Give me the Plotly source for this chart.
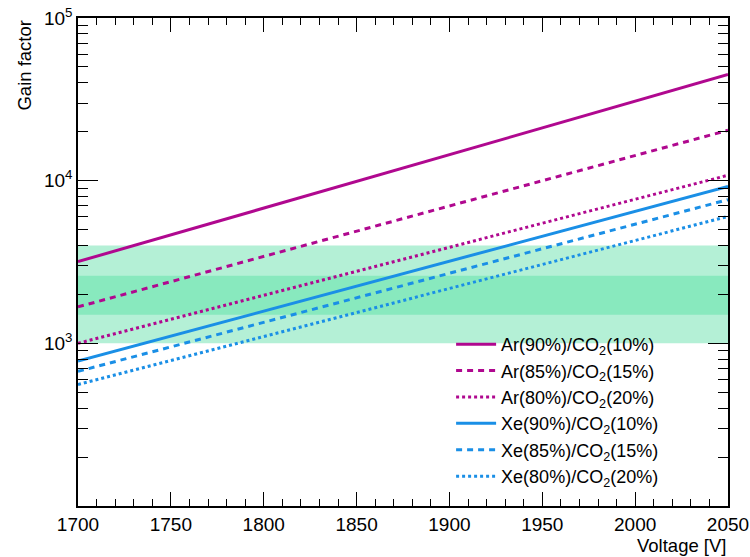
import plotly.graph_objects as go

# ---- data ----
voltage = [1700, 2050]
ar90 = [3180, 45000]
ar85 = [1675, 20400]
ar80 = [1000, 10800]
xe90 = [778, 9230]
xe85 = [672, 7640]
xe80 = [558, 6025]

outer_band = [1000, 4000]
inner_band = [1500, 2600]

x_ticks = [1700, 1750, 1800, 1850, 1900, 1950, 2000, 2050]
y_ticks = [1e3, 1e4, 1e5]
y_ticktext = ["10<sup>3</sup>", "10<sup>4</sup>", "10<sup>5</sup>"]

AR = "#b0088f"
XE = "#1a8fe6"
FONT = "Liberation Sans, Arial, Helvetica, sans-serif"

series = [
    ("Ar(90%)/CO<sub>2</sub>(10%)", ar90, AR, "solid"),
    ("Ar(85%)/CO<sub>2</sub>(15%)", ar85, AR, "6px,5px"),
    ("Ar(80%)/CO<sub>2</sub>(20%)", ar80, AR, "3px,3px"),
    ("Xe(90%)/CO<sub>2</sub>(10%)", xe90, XE, "solid"),
    ("Xe(85%)/CO<sub>2</sub>(15%)", xe85, XE, "6px,5px"),
    ("Xe(80%)/CO<sub>2</sub>(20%)", xe80, XE, "3px,3px"),
]

fig = go.Figure()
for name, vals, col, dash in series:
    fig.add_trace(go.Scatter(x=voltage, y=vals, mode="lines", name=name,
                             line=dict(color=col, width=3, dash=dash)))

fig.add_shape(type="rect", xref="x", yref="y", x0=voltage[0], x1=voltage[-1],
              y0=outer_band[0], y1=outer_band[1], fillcolor="#b4f0d6",
              line=dict(width=0), layer="below")
fig.add_shape(type="rect", xref="x", yref="y", x0=voltage[0], x1=voltage[-1],
              y0=inner_band[0], y1=inner_band[1], fillcolor="#88e9be",
              line=dict(width=0), layer="below")

minor_y = [m * 10 ** k for k in (2, 3, 4) for m in range(2, 10)]

fig.update_layout(
    width=750, height=557,
    margin=dict(l=78, r=22, t=18, b=51, autoexpand=False),
    paper_bgcolor="white", plot_bgcolor="white",
    font=dict(family=FONT, size=19, color="black"),
    showlegend=True,
    legend=dict(x=0.574, y=0.369, xanchor="left", yanchor="top",
                bgcolor="rgba(0,0,0,0)", font=dict(size=18),
                tracegroupgap=0, itemwidth=40),
    xaxis=dict(range=[1700, 2050], tickvals=x_ticks, ticks="inside",
               ticklen=14, tickwidth=1, tickcolor="black", automargin=False,
               showline=True, linecolor="black", linewidth=1.5, mirror="ticks",
               showgrid=False, zeroline=False,
               tickfont=dict(size=19),
               minor=dict(dtick=10, ticks="inside", ticklen=7,
                          tickcolor="black", showgrid=False)),
    yaxis=dict(type="log", range=[2, 5], tickvals=y_ticks, ticktext=y_ticktext,
               ticks="inside", ticklen=20, tickwidth=1, tickcolor="black",
               automargin=False,
               showline=True, linecolor="black", linewidth=1.5, mirror="ticks",
               showgrid=False, zeroline=False, tickfont=dict(size=19),
               minor=dict(tickvals=minor_y, ticks="inside", ticklen=10,
                          tickcolor="black", showgrid=False)),
    annotations=[
        dict(text="Gain factor", xref="paper", yref="paper", x=-0.083, y=1.0,
             xanchor="center", yanchor="top", textangle=-90, showarrow=False,
             font=dict(size=18.5)),
        dict(text="Voltage [V]", xref="paper", yref="paper", x=1.0, y=-0.055,
             xanchor="right", yanchor="top", showarrow=False,
             font=dict(size=18.5)),
    ],
)

fig.write_html("out.html", config={"displayModeBar": False},
               post_script="document.body.style.margin='0';document.body.style.padding='0';")
